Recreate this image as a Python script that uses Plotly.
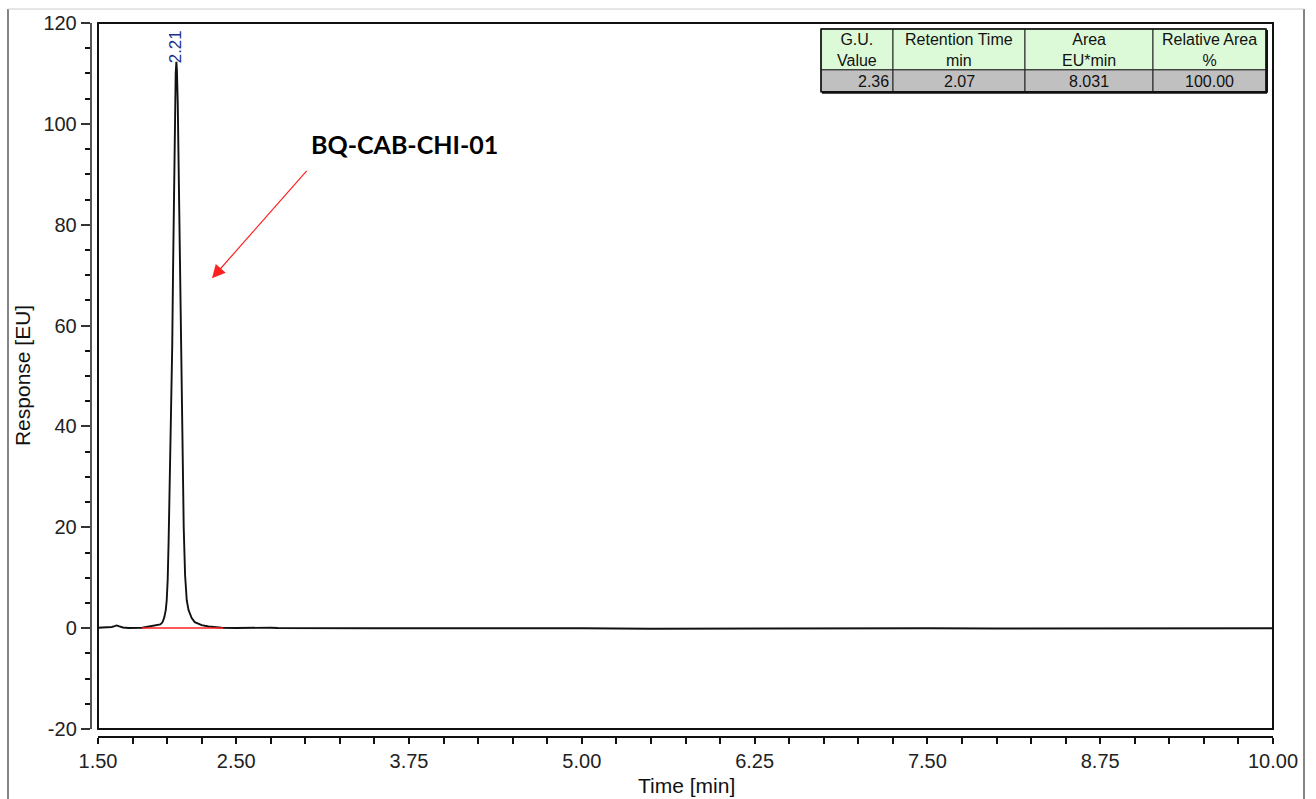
import plotly.graph_objects as go

# ---------------- data ----------------
time_min = [1.50, 1.55, 1.60, 1.62, 1.635, 1.65, 1.68, 1.72, 1.78, 1.82, 1.86, 1.90, 1.93, 1.95,
            1.961, 1.970, 1.980, 1.990, 1.997, 2.004, 2.011, 2.018, 2.025, 2.031, 2.037, 2.043,
            2.048, 2.053, 2.057, 2.062, 2.067, 2.071, 2.077, 2.087, 2.100, 2.110, 2.120, 2.130,
            2.142, 2.155, 2.178, 2.200, 2.250, 2.300, 2.395, 2.50, 2.60, 2.70, 2.75, 2.80, 3.00,
            3.20, 3.50, 4.00, 4.50, 5.00, 5.50, 6.00, 6.50, 7.00, 7.50, 8.00, 8.50, 9.00, 9.50, 10.00]
response = [0.10, 0.15, 0.25, 0.40, 0.55, 0.40, 0.15, 0.05, 0.05, 0.10, 0.30, 0.55, 0.70, 0.75,
            1.0, 1.4, 2.2, 3.6, 5.5, 9.5, 17.4, 27.0, 38.0, 47.0, 56.0, 71.0,
            84.6, 95.0, 104.4, 110.0, 112.3, 110.5, 104.0, 85.0, 58.0, 38.0, 20.0, 10.5,
            5.5, 3.6, 2.0, 1.2, 0.6, 0.35, 0.10, 0.05, 0.10, 0.15, 0.10, 0.05, 0.00,
            0.05, 0.00, 0.00, 0.05, 0.00, -0.10, -0.05, -0.10, -0.05, 0.00, -0.05, 0.00, 0.00, 0.00, 0.00]

baseline_t = [1.818, 2.404]
baseline_y = [0.05, 0.05]

peak_time = 2.067
peak_label = "2.21"
sample_name = "BQ-CAB-CHI-01"

x_tick_vals = [1.50 + 0.25 * i for i in range(35)]
x_label_vals = ["1.50", "2.50", "3.75", "5.00", "6.25", "7.50", "8.75", "10.00"]
y_tick_vals = [-20, 0, 20, 40, 60, 80, 100, 120]

table_headers = ["G.U.<br>Value", "Retention Time<br>min", "Area<br>EU*min", "Relative Area<br>%"]
table_values = ["2.36", "2.07", "8.031", "100.00"]

# ---------------- layout helpers ----------------
W, H = 1316, 799
L, R, T, B = 60, 43, 21, 40
PW, PH = W - L - R, H - T - B


def px(x):
    return (x - L) / PW


def py(y):
    return (H - B - y) / PH


ticktext = []
for v in x_tick_vals:
    s = f"{v:.2f}"
    ticktext.append(s if s in x_label_vals else "")

FONT = "Liberation Sans, Arial, sans-serif"

fig = go.Figure()
fig.add_trace(go.Scatter(x=time_min, y=response, mode="lines",
                         line=dict(color="#111111", width=1.9), hoverinfo="skip"))
fig.add_trace(go.Scatter(x=baseline_t, y=baseline_y, mode="lines",
                         line=dict(color="#ff2020", width=1.4), hoverinfo="skip"))

shapes = []
# plot frame
shapes.append(dict(type="rect", xref="paper", yref="paper",
                   x0=px(98), x1=px(1273), y0=py(729), y1=py(21),
                   line=dict(color="#111111", width=2)))
# outer image border
shapes.append(dict(type="line", xref="paper", yref="paper", x0=px(8), x1=px(8), y0=py(7), y1=py(805),
                   line=dict(color="#333333", width=1.2)))
shapes.append(dict(type="line", xref="paper", yref="paper", x0=px(1304), x1=px(1304), y0=py(7), y1=py(805),
                   line=dict(color="#333333", width=1.2)))
shapes.append(dict(type="line", xref="paper", yref="paper", x0=px(8), x1=px(1304), y0=py(7), y1=py(7),
                   line=dict(color="#cccccc", width=1)))

# table
col_x = [821, 893, 1025, 1153, 1266]
row_y = [27, 68, 90]
annotations = []
for i in range(4):
    shapes.append(dict(type="rect", xref="paper", yref="paper",
                       x0=px(col_x[i]), x1=px(col_x[i + 1]), y0=py(row_y[1]), y1=py(row_y[0]),
                       fillcolor="#ddfad8", line=dict(color="#222222", width=1)))
    shapes.append(dict(type="rect", xref="paper", yref="paper",
                       x0=px(col_x[i]), x1=px(col_x[i + 1]), y0=py(row_y[2]), y1=py(row_y[1]),
                       fillcolor="#c0c0c0", line=dict(color="#222222", width=1)))
    annotations.append(dict(xref="paper", yref="paper",
                            x=px((col_x[i] + col_x[i + 1]) / 2), y=py((row_y[0] + row_y[1]) / 2 + 1),
                            text=table_headers[i], showarrow=False, xanchor="center", yanchor="middle",
                            font=dict(family=FONT, size=16, color="#111111")))
    if i == 0:
        annotations.append(dict(xref="paper", yref="paper", x=px(col_x[1] - 2),
                                y=py((row_y[1] + row_y[2]) / 2 + 1), text=table_values[i],
                                showarrow=False, xanchor="right", yanchor="middle",
                                font=dict(family=FONT, size=16, color="#111111")))
    else:
        annotations.append(dict(xref="paper", yref="paper", x=px((col_x[i] + col_x[i + 1]) / 2),
                                y=py((row_y[1] + row_y[2]) / 2 + 1), text=table_values[i],
                                showarrow=False, xanchor="center", yanchor="middle",
                                font=dict(family=FONT, size=16, color="#111111")))
# table outer border + shadow
shapes.append(dict(type="rect", xref="paper", yref="paper",
                   x0=px(col_x[0]), x1=px(col_x[-1]), y0=py(row_y[2]), y1=py(row_y[0]),
                   line=dict(color="#111111", width=1.5)))
shapes.append(dict(type="line", xref="paper", yref="paper",
                   x0=px(col_x[0] + 1), x1=px(col_x[-1] + 1), y0=py(row_y[2] + 1), y1=py(row_y[2] + 1),
                   line=dict(color="#111111", width=2)))
shapes.append(dict(type="line", xref="paper", yref="paper",
                   x0=px(col_x[-1] + 1), x1=px(col_x[-1] + 1), y0=py(row_y[2] + 1), y1=py(row_y[0] + 1),
                   line=dict(color="#111111", width=2)))

# peak label
annotations.append(dict(xref="x", yref="paper", x=peak_time, y=py(45), text=peak_label,
                        textangle=-90, showarrow=False, xanchor="center", yanchor="middle",
                        font=dict(family=FONT, size=17, color="#1c2f8c")))
# sample name + arrow
annotations.append(dict(xref="paper", yref="paper", x=px(404), y=py(142), text="<b>" + sample_name + "</b>",
                        showarrow=False, xanchor="center", yanchor="middle",
                        font=dict(family="Lato, Carlito, sans-serif", size=25, color="#000000")))
annotations.append(dict(xref="paper", yref="paper", x=px(212), y=py(277), ax=96, ay=-109,
                        axref="pixel", ayref="pixel", text="", showarrow=True,
                        arrowhead=2, arrowsize=2.2, arrowwidth=1.2, arrowcolor="#ff2020"))
# axis titles
annotations.append(dict(xref="paper", yref="paper", x=px(686), y=py(786), text="Time [min]",
                        showarrow=False, xanchor="center", yanchor="middle",
                        font=dict(family=FONT, size=21, color="#111111")))
annotations.append(dict(xref="paper", yref="paper", x=px(22), y=py(375), text="Response [EU]",
                        textangle=-90, showarrow=False, xanchor="center", yanchor="middle",
                        font=dict(family=FONT, size=21, color="#111111")))

fig.update_layout(
    width=W, height=H,
    margin=dict(l=L, r=R, t=T, b=B),
    paper_bgcolor="white", plot_bgcolor="white",
    showlegend=False,
    shapes=shapes,
    annotations=annotations,
    xaxis=dict(domain=[px(98), px(1273)], range=[1.5, 10.0], anchor="free", position=py(737),
               showgrid=False, zeroline=False, showline=True, linecolor="#111111", linewidth=2,
               ticks="outside", ticklen=6, tickwidth=1.5, tickcolor="#111111",
               tickvals=x_tick_vals, ticktext=ticktext,
               tickfont=dict(family=FONT, size=20, color="#222222")),
    yaxis=dict(domain=[py(729), py(21)], range=[-20, 120], anchor="free", position=px(90.5),
               showgrid=False, zeroline=False, showline=True, linecolor="#555555", linewidth=1.5,
               ticks="outside", ticklen=9, tickwidth=1.5, tickcolor="#333333",
               tickvals=y_tick_vals, ticktext=[str(v) for v in y_tick_vals],
               tickfont=dict(family=FONT, size=20, color="#222222"),
               minor=dict(dtick=5, ticks="outside", ticklen=5, tickwidth=1.5, tickcolor="#111111",
                          showgrid=False)),
)

fig.write_html("out.html",
               config={"displayModeBar": False},
               post_script="document.body.style.margin='0px';document.body.style.padding='0px';"
                           "document.body.style.overflow='hidden';")
